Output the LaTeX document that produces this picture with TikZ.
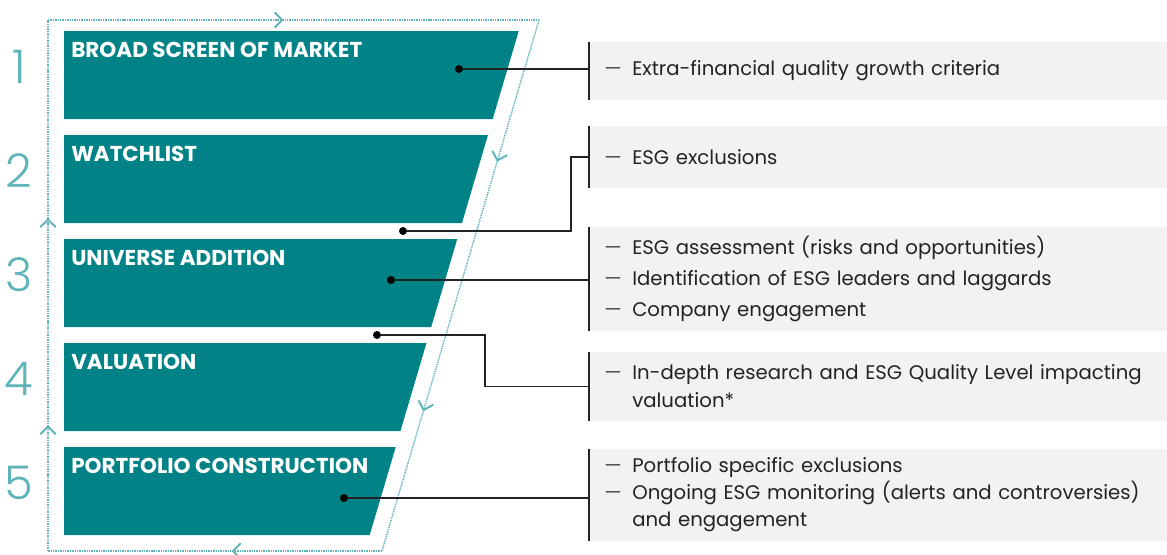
\documentclass[tikz,border=0pt]{standalone}
\usepackage{fontspec}
\setmainfont{Poppins}
\newfontfamily\numfont{Poppins}[UprightFont=* Light]
\usetikzlibrary{arrows.meta,decorations.markings,calc}
\definecolor{barteal}{RGB}{0,130,135}
\definecolor{lineteal}{RGB}{95,180,185}
\definecolor{panelgray}{RGB}{242,242,242}
\definecolor{darktext}{RGB}{35,35,35}
\newcommand\itm[1]{\noindent\hangindent=1.075cm\hangafter=1\hspace*{0.375cm}\makebox[0.7cm][l]{\textcolor{darktext!80}{---}}#1\par}

\begin{document}
\begin{tikzpicture}[x=0.025cm, y=-0.025cm,
    bartitle/.style={anchor=base west, text=white, inner sep=0pt, font=\bfseries\fontsize{15.3}{18}\selectfont},
    stepnum/.style={text=lineteal, inner sep=0pt, font=\numfont\fontsize{33}{36}\selectfont},
    panel/.style={anchor=west, fill=panelgray, minimum width=14.45cm, text width=14.45cm, inner sep=0pt, align=left, text=darktext, font=\fontsize{14}{20}\selectfont},
    link/.style={draw=darktext, line width=0.8pt},
    brk/.style={draw=darktext, line width=1.5pt},
    dot/.style={circle, fill=black, inner sep=0pt, minimum size=0.2cm},
    loopline/.style={draw=lineteal, line width=1pt, dash pattern=on 1pt off 0.7pt},
    chev/.style={postaction={decorate, decoration={markings, mark=at position #1 with {\arrow{Straight Barb[length=5.5pt, width=11pt, color=lineteal, line width=1.4pt]}}}}},
  ]
  \useasboundingbox (0,0) rectangle (1167,554);

  % Funnel bars with step numbers
  \foreach \i/\ttl in {1/BROAD SCREEN OF MARKET, 2/WATCHLIST, 3/UNIVERSE ADDITION, 4/VALUATION, 5/PORTFOLIO CONSTRUCTION}{
    \pgfmathsetmacro\yt{31+104*(\i-1)}
    \pgfmathsetmacro\yb{\yt+88}
    \fill[barteal] (64,\yt) -- ({522-0.2957*(\yt-20)},\yt) -- ({522-0.2957*(\yb-20)},\yb) -- (64,\yb) -- cycle;
    \node[bartitle] (t\i) at (71,{\yt+26}) {\ttl};
    \node[stepnum] (n\i) at (19,{\yt+36}) {\i};
  }

  % Dotted loop around the funnel
  \coordinate (f1) at (48,20);
  \coordinate (f2) at (539,20);
  \coordinate (f3) at (382,551);
  \coordinate (f4) at (48,551);
  \draw[loopline, chev=0.48] (f1) -- (f2);
  \draw[loopline, chev=0.267, chev=0.737] (f2) -- (f3);
  \draw[loopline, chev=0.45] (f3) -- (f4);
  \draw[loopline, chev=0.237, chev=0.627] (f4) -- (f1);

  % Grey panels on the right
  \node[panel, minimum height=1.45cm, yshift=-0.05cm] (p1) at (589,69) {\itm{Extra-financial quality growth criteria}};
  \node[panel, minimum height=1.55cm] (p2) at (589,157) {\itm{ESG exclusions}};
  \node[panel, minimum height=2.6cm, font=\fontsize{14}{22}\selectfont] (p3) at (589,279) {\itm{ESG assessment (risks and opportunities)}\itm{Identification of ESG leaders and laggards}\itm{Company engagement}};
  \node[panel, minimum height=1.725cm] (p4) at (589,386.5) {\itm{In-depth research and ESG Quality Level impacting\hfil\break valuation*}};
  \node[panel, minimum height=2.3cm, font=\fontsize{14}{19}\selectfont, yshift=-0.07cm] (p5) at (589,492) {\itm{Portfolio specific exclusions}\itm{Ongoing ESG monitoring (alerts and controversies)\hfil\break and engagement}};
  \foreach \p in {p1,p2,p3,p4,p5}
    \draw[brk] (\p.north west) -- (\p.south west);

  % Dots and connectors
  \node[dot] (d1) at (459,69) {};
  \node[dot] (d2) at (403,231) {};
  \node[dot] (d3) at (391,280) {};
  \node[dot] (d4) at (377,335) {};
  \node[dot] (d5) at (344,498) {};
  \coordinate (k2) at (571,157);
  \coordinate (k4) at (485,386.5);
  \draw[link] (d1) -- (d1 -| p1.west);
  \draw[link] (d2) -| (k2) -- (p2.west);
  \draw[link] (d3) -- (d3 -| p3.west);
  \draw[link] (d4) -| (k4) -- (p4.west);
  \draw[link] (d5) -- (d5 -| p5.west);
\end{tikzpicture}
\end{document}
